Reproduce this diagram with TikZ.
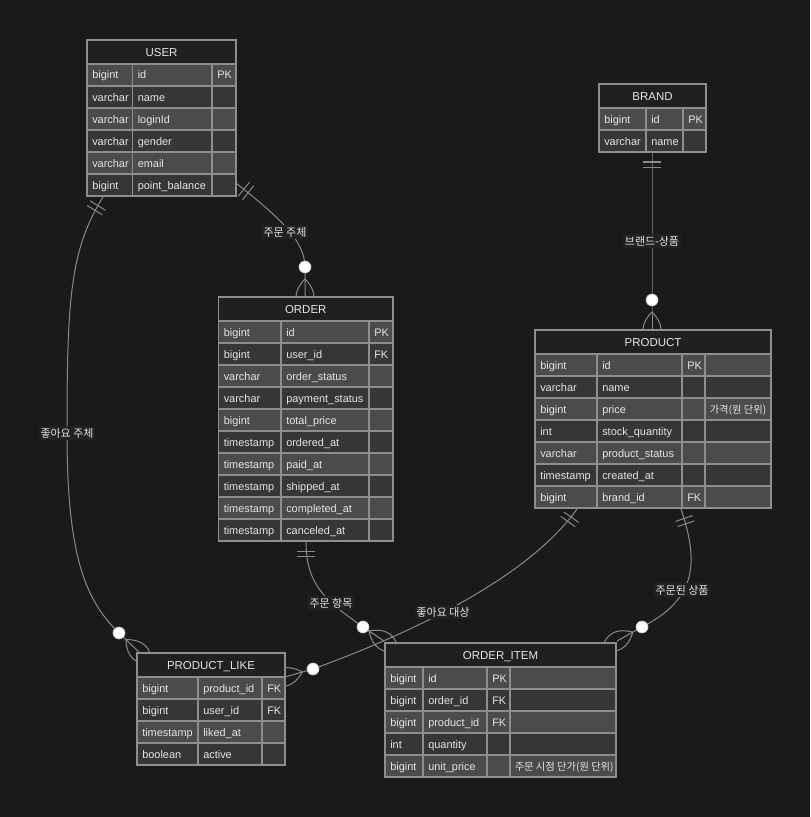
\documentclass[tikz,border=0pt]{standalone}
\usepackage{fontspec}
\setmainfont{Liberation Sans}
\newfontfamily\kr{Noto Sans CJK KR}
\usetikzlibrary{calc}
\definecolor{bgc}{HTML}{1A1A1A}
\definecolor{titlec}{HTML}{1F2020}
\definecolor{rowA}{HTML}{4B4B4B}
\definecolor{rowB}{HTML}{363636}
\definecolor{bordc}{HTML}{8E8E8E}
\definecolor{txtc}{HTML}{E6E6E6}
\definecolor{linec}{HTML}{8A8A8A}
\definecolor{lblbg}{HTML}{212121}
\tikzset{
  cell/.style={draw=bordc, line width=0.9pt},
  celltext/.style={text=txtc, inner sep=0pt, font=\fontsize{8.2pt}{10pt}\selectfont},
  titletext/.style={text=txtc, inner sep=0pt, font=\fontsize{8.6pt}{10pt}\selectfont},
  conn/.style={draw=linec, line width=0.75pt},
  dotc/.style={draw=linec!50!white, fill=white, line width=0.5pt},
  lbl/.style={fill=lblbg, text=txtc, inner sep=1.5pt, font=\kr\fontsize{8.2pt}{10pt}\selectfont},
}
% #1 name, #2 title, #3-#7 column x boundaries, #8 top y, #9 rows
\newcommand\ertable[9]{%
  \draw[cell, fill=titlec] (#3,#8) rectangle (#7,#8+24);
  \node[titletext, anchor=base] (#1) at ({(#3+#7)/2},#8+16.2) {#2};
  \foreach \ct/\cn/\ck/\cc [count=\ri] in {#9} {
    \pgfmathsetmacro\ry{#8+24+(\ri-1)*22}
    \pgfmathtruncatemacro\rodd{mod(\ri,2)}
    \ifnum\rodd=1 \def\rfill{rowA}\else\def\rfill{rowB}\fi
    \draw[cell, fill=\rfill] (#3,\ry) rectangle (#4,\ry+22);
    \draw[cell, fill=\rfill] (#4,\ry) rectangle (#5,\ry+22);
    \draw[cell, fill=\rfill] (#5,\ry) rectangle (#6,\ry+22);
    \draw[cell, fill=\rfill] (#6,\ry) rectangle (#7,\ry+22);
    \node[celltext, anchor=base west] (#1-t\ri) at (#3+5,\ry+15) {\ct};
    \node[celltext, anchor=base west] (#1-n\ri) at (#4+5,\ry+15) {\cn};
    \node[celltext, anchor=base west] (#1-k\ri) at (#5+5,\ry+15) {\ck};
    \node[celltext, anchor=base west, font=\kr\fontsize{7.7pt}{10pt}\selectfont] (#1-c\ri) at (#6+4.5,\ry+15) {\cc};
  }
}
% crow's foot (zero or many): #1 edge point, #2 circle centre
\newcommand\manyend[2]{%
  \draw[conn] ($(#1)!13.5pt!(#2)$) .. controls ($(#1)!10.06pt!63.43:(#2)$) and ($(#1)!10.06pt!116.57:(#2)$) .. ($(#1)!13.5pt!180:(#2)$)
     .. controls ($(#1)!10.06pt!-116.57:(#2)$) and ($(#1)!10.06pt!-63.43:(#2)$) .. ($(#1)!13.5pt!(#2)$);
  \draw[dotc] (#2) circle (4.5pt);
}
% exactly one: #1 edge point, #2 point along the line
\newcommand\oneend[2]{%
  \draw[conn] ($(#1)!10.09pt!41.99:(#2)$) -- ($(#1)!10.09pt!-41.99:(#2)$);
  \draw[conn] ($(#1)!13.44pt!30.14:(#2)$) -- ($(#1)!13.44pt!-30.14:(#2)$);
}
\begin{document}
\begin{tikzpicture}[x=0.75pt,y=-0.75pt]
\fill[bgc] (0,0) rectangle (810,817);
\useasboundingbox (0,0) rectangle (810,817);

% ---------- connectors ----------
% USER -> ORDER
\coordinate (c1s) at (236,183); \coordinate (c1c) at (305,267); \coordinate (c1e) at (305,297);
\draw[conn] (c1s) .. controls (272,212) and (305,238) .. (c1c) -- (c1e);
\oneend{c1s}{272,212}
\manyend{c1e}{c1c}
% BRAND -> PRODUCT
\coordinate (c2s) at (652,152); \coordinate (c2c) at (652,300); \coordinate (c2e) at (652,330);
\draw[conn] (c2s) -- (c2c) -- (c2e);
\oneend{c2s}{c2c}
\manyend{c2e}{c2c}
% USER -> PRODUCT_LIKE
\coordinate (c3s) at (103,197); \coordinate (c3c) at (119,633); \coordinate (c3e) at (139,652);
\draw[conn] (c3s) .. controls (70,250) and (67,300) .. (67,433) .. controls (67,555) and (85,600) .. (c3c) -- (c3e);
\oneend{c3s}{70,250}
\manyend{c3e}{c3c}
% ORDER -> ORDER_ITEM
\coordinate (c4s) at (306,541); \coordinate (c4c) at (363,627); \coordinate (c4e) at (384,641);
\draw[conn] (c4s) .. controls (306,585) and (325,600) .. (c4c) -- (c4e);
\oneend{c4s}{306,585}
\manyend{c4e}{c4c}
% PRODUCT -> PRODUCT_LIKE
\coordinate (c5s) at (577,509); \coordinate (c5c) at (313,669); \coordinate (c5e) at (285,677);
\draw[conn] (c5s) .. controls (530,575) and (420,630) .. (c5c) -- (c5e);
\oneend{c5s}{530,575}
\manyend{c5e}{c5c}
% PRODUCT -> ORDER_ITEM
\coordinate (c6s) at (681,509); \coordinate (c6c) at (642,627); \coordinate (c6e) at (617,641);
\draw[conn] (c6s) .. controls (700,565) and (695,600) .. (c6c) -- (c6e);
\oneend{c6s}{700,565}
\manyend{c6e}{c6c}

% ---------- labels ----------
\node[lbl] (l1) at (285,232) {주문 주체};
\node[lbl] (l2) at (652,241) {브랜드-상품};
\node[lbl] (l3) at (67,433) {좋아요 주체};
\node[lbl] (l4) at (331,603) {주문 항목};
\node[lbl] (l5) at (443,612) {좋아요 대상};
\node[lbl] (l6) at (682,590) {주문된 상품};

% ---------- tables ----------
\ertable{user}{USER}{87}{132.5}{212}{236}{236}{40}{bigint/id/PK/{}, varchar/name/{}/{}, varchar/loginId/{}/{}, varchar/gender/{}/{}, varchar/email/{}/{}, bigint/point\_balance/{}/{}}
\ertable{brand}{BRAND}{599}{646}{683}{706}{706}{84}{bigint/id/PK/{}, varchar/name/{}/{}}
\ertable{order}{ORDER}{218.5}{281}{369}{393}{393}{297}{bigint/id/PK/{}, bigint/user\_id/FK/{}, varchar/order\_status/{}/{}, varchar/payment\_status/{}/{}, bigint/total\_price/{}/{}, timestamp/ordered\_at/{}/{}, timestamp/paid\_at/{}/{}, timestamp/shipped\_at/{}/{}, timestamp/completed\_at/{}/{}, timestamp/canceled\_at/{}/{}}
\ertable{product}{PRODUCT}{535}{597}{682}{705}{771}{330}{bigint/id/PK/{}, varchar/name/{}/{}, bigint/price/{}/가격(원 단위), int/stock\_quantity/{}/{}, varchar/product\_status/{}/{}, timestamp/created\_at/{}/{}, bigint/brand\_id/FK/{}}
\ertable{plike}{PRODUCT\_LIKE}{137}{198}{262}{285}{285}{653}{bigint/product\_id/FK/{}, bigint/user\_id/FK/{}, timestamp/liked\_at/{}/{}, boolean/active/{}/{}}
\ertable{oitem}{ORDER\_ITEM}{385}{423}{487}{510}{616}{643}{bigint/id/PK/{}, bigint/order\_id/FK/{}, bigint/product\_id/FK/{}, int/quantity/{}/{}, bigint/unit\_price/{}/주문 시점 단가(원 단위)}
\end{tikzpicture}
\end{document}
